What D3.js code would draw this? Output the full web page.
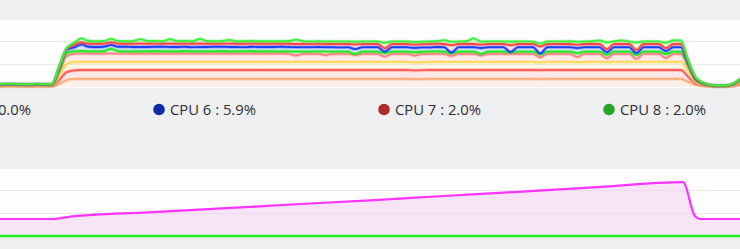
<!DOCTYPE html>
<html>
<head>
<meta charset="utf-8">
<script src="https://cdn.jsdelivr.net/npm/d3@7"></script>
<style>
  html, body { margin: 0; padding: 0; background: #eeeff1; }
  svg { display: block; }
</style>
</head>
<body>
<div id="chart"></div>
<script>
// CPU usage per core, stacked (one sample every step, 101 samples)
const cpu1 = [0.2,0.25,0.2,0.2,0.2,0.25,0.2,0.2,1.3,3.0,
  3.5,3.5,3.5,3.5,3.5,3.5,3.5,3.5,3.5,3.5,
  3.5,3.5,3.5,3.5,3.5,3.5,3.5,3.5,3.5,3.5,
  3.5,3.5,3.5,3.5,3.5,3.5,3.5,3.5,3.5,3.5,
  3.5,3.5,3.5,3.5,3.5,3.5,3.5,3.5,3.5,3.5,
  3.5,3.5,3.5,3.5,3.5,3.5,3.4,3.4,3.5,3.5,
  3.5,3.5,3.5,3.5,3.5,3.5,3.5,3.5,3.5,3.5,
  3.5,3.5,3.5,3.4,3.5,3.5,3.5,3.5,3.5,3.5,
  3.5,3.5,3.5,3.5,3.5,3.5,3.5,3.5,3.5,3.5,
  3.5,3.5,3.5,2.2,0.9,0.4,0.2,0.15,0.15,0.3,
  0.9];
const cpu2 = [0.2,0.2,0.25,0.2,0.2,0.2,0.2,0.2,1.7,3.5,
  3.7,3.9,3.9,3.9,3.9,3.9,3.9,3.9,3.9,3.9,
  3.9,3.9,3.9,3.9,3.9,3.9,3.9,3.9,3.9,3.9,
  3.9,3.9,3.9,3.9,3.9,3.9,3.9,3.9,3.9,3.9,
  3.9,3.9,3.9,3.9,3.9,3.9,3.9,3.9,3.9,3.9,
  3.9,3.9,3.9,3.9,3.9,3.9,3.8,3.9,3.9,3.9,
  3.9,3.9,3.9,3.9,3.9,3.9,3.9,3.9,3.9,3.9,
  3.9,3.9,3.9,3.9,3.9,3.9,3.9,3.9,3.9,3.9,
  3.9,3.9,3.9,3.9,3.9,3.9,3.9,3.9,3.9,3.9,
  3.9,3.9,3.9,2.2,0.65,0.3,0.15,0.1,0.1,0.25,
  0.7];
const cpu3 = [0.2,0.2,0.2,0.2,0.2,0.2,0.2,0.2,1.7,3.5,
  3.7,3.5,3.5,3.5,3.5,3.5,3.5,3.5,3.5,3.5,
  3.5,3.5,3.5,3.5,3.5,3.5,3.5,3.5,3.5,3.5,
  3.5,3.5,3.5,3.5,3.5,3.5,3.5,3.5,3.5,3.5,
  3.5,3.5,3.5,3.5,3.5,3.5,3.5,3.5,3.5,3.5,
  3.5,3.5,3.5,3.5,3.5,3.5,3.5,3.5,3.5,3.5,
  3.5,3.5,3.5,3.5,3.5,3.5,3.5,3.5,3.5,3.5,
  3.5,3.5,3.5,3.4,3.5,3.5,3.5,3.5,3.4,3.5,
  3.5,3.5,3.4,3.5,3.5,3.5,3.5,3.5,3.5,3.5,
  3.5,3.5,3.5,2.2,0.65,0.3,0.15,0.1,0.1,0.2,
  0.6];
const cpu4 = [0.2,0.25,0.2,0.2,0.2,0.25,0.2,0.2,1.7,3.5,
  3.5,3.7,3.6,3.6,3.6,3.7,3.6,3.6,3.6,3.6,
  3.6,3.6,3.6,3.6,3.6,3.6,3.6,3.6,3.6,3.6,
  3.6,3.6,3.6,3.6,3.6,3.6,3.6,3.6,3.6,3.6,
  2.8,3.5,3.5,3.5,3.0,3.5,3.5,3.5,3.0,3.5,
  3.5,3.5,2.3,3.5,3.5,3.5,3.0,3.5,3.5,3.5,
  3.5,2.6,3.5,3.5,3.5,2.8,3.5,3.5,3.5,3.5,
  3.5,3.5,3.5,2.2,3.5,3.5,3.5,3.5,2.2,3.5,
  3.5,3.5,1.7,3.5,3.5,3.5,1.3,3.5,3.5,3.5,
  1.7,3.5,3.5,2.2,0.65,0.3,0.15,0.1,0.1,0.2,
  0.5];
const cpu5 = [0.1,0.1,0.15,0.1,0.1,0.1,0.1,0.1,0.9,1.3,
  1.1,1.1,1.0,1.0,1.1,2.0,1.1,1.0,1.0,1.0,
  1.0,1.1,1.0,1.0,1.0,1.1,1.0,1.0,1.0,1.0,
  1.1,1.0,1.0,1.0,1.1,1.0,1.0,1.0,1.0,1.0,
  1.7,1.0,1.0,1.1,1.5,1.0,1.0,1.0,0.4,1.0,
  1.0,1.0,1.6,1.0,1.0,1.0,1.4,1.0,1.0,1.1,
  1.0,1.1,1.0,1.0,1.0,0.65,1.0,1.0,1.0,0.65,
  1.0,1.0,1.0,1.3,1.0,1.0,1.0,1.0,1.7,1.0,
  1.0,1.0,1.5,1.0,1.0,1.0,1.7,1.0,1.0,1.0,
  1.7,1.0,1.0,0.65,0.2,0.1,0.05,0.05,0.05,0.1,
  0.2];
const cpu6 = [0.15,0.2,0.15,0.15,0.15,0.2,0.15,0.15,0.9,1.3,
  1.7,2.8,2.0,1.9,1.9,1.7,1.9,2.0,1.9,1.9,
  1.9,1.9,2.0,1.9,1.9,1.9,1.8,1.9,1.9,2.0,
  1.9,1.9,1.9,1.8,1.9,1.9,1.9,1.9,2.0,1.9,
  1.9,1.9,1.9,1.9,1.9,1.9,1.8,1.9,2.2,1.9,
  1.9,1.9,0.6,1.9,1.9,1.9,1.9,1.9,1.8,1.9,
  1.9,0.4,1.9,1.9,1.9,2.6,1.9,1.9,1.9,0.2,
  1.9,1.9,1.9,0.4,1.9,1.9,1.9,1.9,2.2,1.9,
  1.9,1.9,1.1,1.9,1.9,1.9,0.9,1.9,1.9,1.9,
  1.3,1.9,1.9,0.9,0.45,0.2,0.1,0.05,0.05,0.1,
  0.3];
const cpu7 = [0.1,0.1,0.15,0.1,0.1,0.1,0.1,0.1,0.4,0.4,
  1.1,0.9,1.3,1.4,1.4,1.1,1.4,1.3,1.4,1.5,
  1.4,1.4,1.3,1.5,1.4,1.4,1.5,1.5,1.4,1.3,
  1.4,1.5,1.4,1.5,1.4,1.4,1.4,1.4,1.3,1.4,
  1.4,1.4,1.4,1.4,1.4,1.4,1.5,1.4,2.0,1.4,
  1.4,1.4,1.4,1.4,1.4,1.4,1.4,1.4,1.5,1.4,
  1.4,3.2,1.4,1.4,1.4,1.5,1.4,1.4,1.4,3.0,
  1.4,1.4,1.4,3.0,1.4,1.4,1.4,1.4,1.4,1.4,
  1.4,1.4,1.3,1.4,1.4,1.4,1.3,1.4,1.4,1.4,
  1.3,1.4,1.4,0.65,0.45,0.15,0.05,0.05,0.05,0.1,
  0.15];
const cpu8 = [0.1,0.15,0.1,0.1,0.1,0.15,0.1,0.1,0.4,0.4,
  0.9,1.7,1.2,1.1,1.1,1.5,1.1,1.1,1.2,1.9,
  1.2,1.1,1.1,1.9,1.2,1.1,1.1,2.0,1.2,1.1,
  1.1,1.6,1.1,1.1,1.1,1.1,1.1,1.1,1.1,1.2,
  1.9,1.2,1.1,1.1,1.1,1.1,1.1,1.1,1.2,1.1,
  1.1,1.1,2.5,1.1,1.1,1.1,1.2,1.1,1.1,1.1,
  1.7,1.5,1.1,1.2,2.4,1.3,1.1,1.1,1.1,1.5,
  1.1,1.1,1.0,1.3,1.1,1.1,1.1,1.2,1.4,1.1,
  1.2,1.6,3.0,1.2,1.6,1.1,3.3,1.1,1.1,1.1,
  2.4,1.6,1.6,0.65,0.45,0.2,0.05,0.05,0.05,0.1,
  0.15];

const cpuNames = ["CPU 1","CPU 2","CPU 3","CPU 4","CPU 5","CPU 6","CPU 7","CPU 8"];
const cpuColors = ["#ffab78","#ff5c5c","#ffd95e","#ff8080","#22e822","#1a3fff","#ff4646","#3def3d"];

// legend (only the visible part of the row)
const legendNames = ["CPU 5","CPU 6","CPU 7","CPU 8"];
const legendValues = ["0.0%","5.9%","2.0%","2.0%"];
const legendColors = ["#e07b26","#0a2aa8","#b0292b","#28a428"];

// memory panel: sample positions and values
const memTimes  = [0, 7.2, 9.5, 20, 30, 40, 50, 60, 70, 80, 92.3, 93.9, 94.6, 100];
const memValues = [7.4, 7.4, 8.4, 10.3, 12.0, 13.8, 15.5, 17.4, 19.2, 21.1, 23.4, 8.7, 7.4, 7.4];
const swapTimes  = [0, 100];
const swapValues = [0, 0];

const gridTicks = [10, 20];

const width = 740, height = 249;

const svg = d3.select("#chart").append("svg")
  .attr("width", width)
  .attr("height", height);

const x = d3.scaleLinear().domain([0, 100]).range([0, width]);

// ---------- top panel: stacked CPU ----------
const cpuPanel = { y0: 20, y1: 88, base: 87 };
const yTop = d3.scaleLinear().domain([0, 10]).range([cpuPanel.base, cpuPanel.base - 23]);

svg.append("rect")
  .attr("x", 0).attr("y", cpuPanel.y0)
  .attr("width", width).attr("height", cpuPanel.y1 - cpuPanel.y0)
  .attr("fill", "#fdfdfd");

svg.append("g").selectAll("line")
  .data(gridTicks)
  .join("line")
  .attr("x1", 0).attr("x2", width)
  .attr("y1", d => Math.round(yTop(d)) + 0.5)
  .attr("y2", d => Math.round(yTop(d)) + 0.5)
  .attr("stroke", "#e9e9ec");

const cpuSeries = [cpu1, cpu2, cpu3, cpu4, cpu5, cpu6, cpu7, cpu8];
const rows = cpu1.map((_, i) => {
  const r = { t: i };
  cpuNames.forEach((n, k) => r[n] = cpuSeries[k][i]);
  return r;
});
const stacked = d3.stack().keys(cpuNames)(rows);

const area = d3.area()
  .curve(d3.curveMonotoneX)
  .x(d => x(d.data.t))
  .y0(d => yTop(d[0]))
  .y1(d => yTop(d[1]));

const line = d3.line()
  .curve(d3.curveMonotoneX)
  .x(d => x(d.data.t))
  .y(d => yTop(d[1]));

svg.append("g").selectAll("path")
  .data(stacked)
  .join("path")
  .attr("d", area)
  .attr("fill", (d, i) => cpuColors[i])
  .attr("fill-opacity", 0.14);

const lines = svg.append("g").attr("fill", "none");
stacked.forEach((s, i) => {
  lines.append("path")
    .attr("d", line(s))
    .attr("stroke", cpuColors[i])
    .attr("stroke-opacity", 0.35)
    .attr("stroke-width", 3.5);
  lines.append("path")
    .attr("d", line(s))
    .attr("stroke", cpuColors[i])
    .attr("stroke-width", 1.8);
});

// ---------- legend ----------
const legend = svg.append("g")
  .attr("font-family", "'Open Sans', sans-serif")
  .attr("font-size", 14.8)
  .attr("fill", "#2e2e33");

legendNames.forEach((n, i) => {
  const lx = -66 + i * 225;
  legend.append("circle")
    .attr("cx", lx).attr("cy", 109.5).attr("r", 5.8)
    .attr("fill", legendColors[i]);
  legend.append("text")
    .attr("x", lx + 11).attr("y", 114.5)
    .text(`${n} : ${legendValues[i]}`);
});

// ---------- bottom panel: memory ----------
const memPanel = { y0: 169, y1: 237, base: 236 };
const yBot = d3.scaleLinear().domain([0, 10]).range([memPanel.base, memPanel.base - 23]);

svg.append("rect")
  .attr("x", 0).attr("y", memPanel.y0)
  .attr("width", width).attr("height", memPanel.y1 - memPanel.y0)
  .attr("fill", "#fdfdfd");

svg.append("g").selectAll("line")
  .data(gridTicks)
  .join("line")
  .attr("x1", 0).attr("x2", width)
  .attr("y1", d => Math.round(yBot(d)) + 0.5)
  .attr("y2", d => Math.round(yBot(d)) + 0.5)
  .attr("stroke", "#e9e9ec");

const memData = memTimes.map((t, i) => ({ t, v: memValues[i] }));
const swapData = swapTimes.map((t, i) => ({ t, v: swapValues[i] }));

svg.append("path")
  .datum(memData)
  .attr("d", d3.area().curve(d3.curveMonotoneX)
    .x(d => x(d.t)).y0(yBot(0)).y1(d => yBot(d.v)))
  .attr("fill", "#f0c8f0")
  .attr("fill-opacity", 0.45);

svg.append("path")
  .datum(memData)
  .attr("d", d3.line().curve(d3.curveMonotoneX).x(d => x(d.t)).y(d => yBot(d.v)))
  .attr("fill", "none")
  .attr("stroke", "#ff33ff")
  .attr("stroke-width", 2.2);

svg.append("path")
  .datum(swapData)
  .attr("d", d3.line().x(d => x(d.t)).y(d => yBot(d.v)))
  .attr("fill", "none")
  .attr("stroke", "#22f022")
  .attr("stroke-width", 2.5);
</script>
</body>
</html>
